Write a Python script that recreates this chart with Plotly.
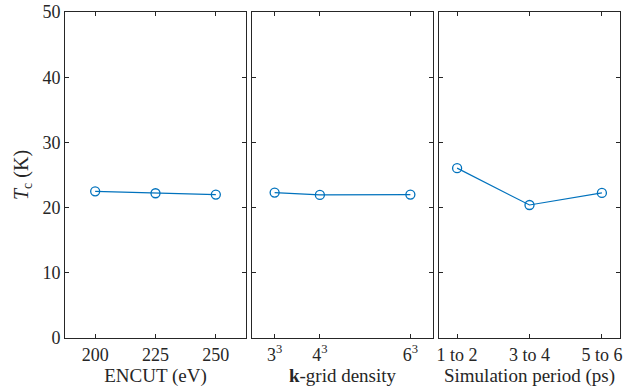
import plotly.graph_objects as go

# Data
encut = [200, 225, 250]
encut_tc = [22.5, 22.2, 22.0]

kgrid_pos = [3, 4, 6]
kgrid_labels = ["3<sup>3</sup>", "4<sup>3</sup>", "6<sup>3</sup>"]
kgrid_tc = [22.3, 21.95, 22.0]

period_pos = [1.5, 3.5, 5.5]
period_labels = ["1 to 2", "3 to 4", "5 to 6"]
period_tc = [26.05, 20.4, 22.25]

color = "#0072BD"
font_family = "Liberation Serif"
axis_color = "#262626"

fig = go.Figure()
series = [(encut, encut_tc, "x", "y"),
          (kgrid_pos, kgrid_tc, "x2", "y2"),
          (period_pos, period_tc, "x3", "y3")]
for xs, ys, xa, ya in series:
    fig.add_trace(go.Scatter(
        x=xs, y=ys, xaxis=xa, yaxis=ya, mode="lines+markers",
        line=dict(color=color, width=1.2),
        marker=dict(symbol="circle-open", size=9, color=color, line=dict(width=1.3, color=color)),
        showlegend=False))

W = 555.0
doms = [(0, 181 / W), (187 / W, 368 / W), (374 / W, 1)]

common_x = dict(showgrid=False, zeroline=False, showline=True, linecolor=axis_color, linewidth=1,
                mirror="ticks", ticks="inside", ticklen=4, tickcolor=axis_color,
                tickfont=dict(family=font_family, size=18, color=axis_color),
                title_font=dict(family=font_family, size=19, color=axis_color),
                title_standoff=3, automargin=False, ticklabeloverflow="allow")
common_y = dict(showgrid=False, zeroline=False, showline=True, linecolor=axis_color, linewidth=1,
                mirror="ticks", ticks="inside", ticklen=4, tickcolor=axis_color,
                range=[0, 50], tickvals=[0, 10, 20, 30, 40, 50], automargin=False,
                ticklabeloverflow="allow",
                tickfont=dict(family=font_family, size=18, color=axis_color),
                title_font=dict(family=font_family, size=20, color=axis_color))

fig.update_layout(
    width=639, height=389,
    margin=dict(l=65, r=19, t=12, b=51),
    paper_bgcolor="white", plot_bgcolor="white",
    xaxis=dict(domain=doms[0], range=[187.5, 262.5], tickvals=encut,
               ticktext=[str(v) for v in encut], title_text="ENCUT (eV)", anchor="y", **common_x),
    xaxis2=dict(domain=doms[1], range=[2.5, 6.5], tickvals=kgrid_pos, ticktext=kgrid_labels,
                title_text="<b>k</b>-grid density", anchor="y2", **common_x),
    xaxis3=dict(domain=doms[2], range=[1, 6], tickvals=period_pos, ticktext=period_labels,
                title_text="Simulation period (ps)", anchor="y3", **common_x),
    yaxis=dict(anchor="x", title_text="<i>T</i><sub>c</sub> (K)", title_standoff=8, **common_y),
    yaxis2=dict(anchor="x2", showticklabels=False, **common_y),
    yaxis3=dict(anchor="x3", showticklabels=False, **common_y),
)

fig.write_html("out.html", config={"displayModeBar": False},
               post_script="document.body.style.margin='0';")
